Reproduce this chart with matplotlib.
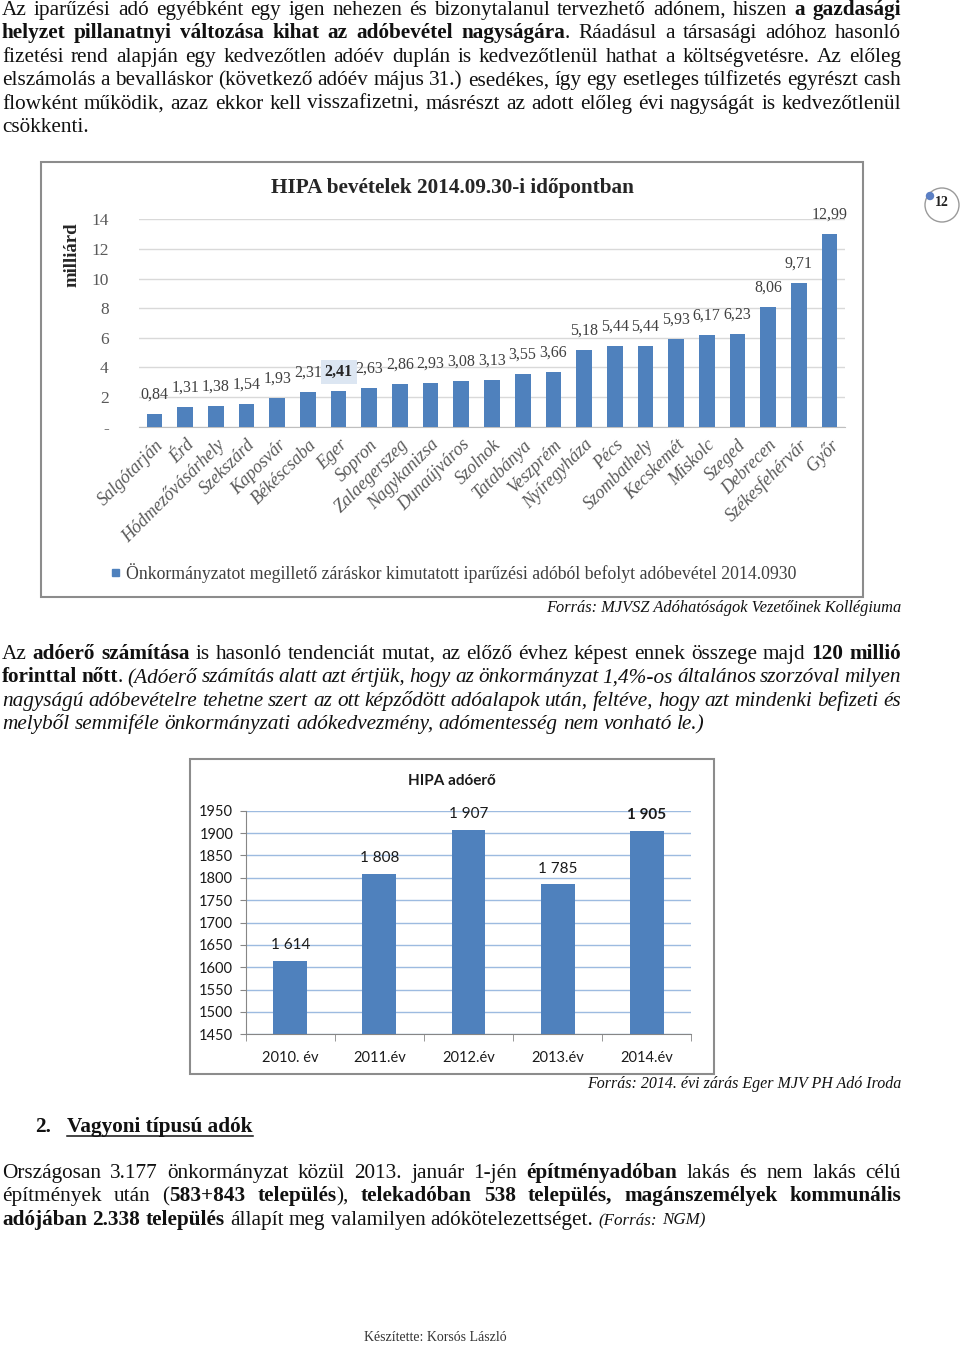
import numpy as np
import matplotlib
matplotlib.use("Agg")
import matplotlib.pyplot as plt
from matplotlib.patches import Rectangle, Circle

W, H = 960, 1347
SERIF = ["Liberation Serif", "DejaVu Serif"]
SANS = ["Lato", "DejaVu Sans"]
BLUE = "#4f81bd"

# chart 1 - HIPA bevételek (milliárd Ft)
cities = ["Salgótarján", "Érd", "Hódmezővásárhely", "Szekszárd", "Kaposvár",
          "Békéscsaba", "Eger", "Sopron", "Zalaegerszeg", "Nagykanizsa",
          "Dunaújváros", "Szolnok", "Tatabánya", "Veszprém", "Nyíregyháza",
          "Pécs", "Szombathely", "Kecskemét", "Miskolc", "Szeged", "Debrecen",
          "Székesfehérvár", "Győr"]
revenue = [0.84, 1.31, 1.38, 1.54, 1.93, 2.31, 2.41, 2.63, 2.86, 2.93, 3.08,
           3.13, 3.55, 3.66, 5.18, 5.44, 5.44, 5.93, 6.17, 6.23, 8.06, 9.71, 12.99]
rev_ticks = [0, 2, 4, 6, 8, 10, 12, 14]
rev_ticklabels = ["-", "2", "4", "6", "8", "10", "12", "14"]
highlight = "Eger"

# chart 2 - HIPA adóerő
years = ["2010. év", "2011.év", "2012.év", "2013.év", "2014.év"]
adoero = [1614, 1808, 1907, 1785, 1905]
adoero_ticks = list(range(1450, 2000, 50))

# body text: lines of (text, style) segments
para1 = [
    [("Az iparűzési adó egyébként egy igen nehezen és bizonytalanul tervezhető adónem, hiszen ", "n"), ("a gazdasági", "b")],
    [("helyzet pillanatnyi változása kihat az adóbevétel nagyságára", "b"), (". Ráadásul a társasági adóhoz hasonló", "n")],
    [("fizetési rend alapján egy kedvezőtlen adóév duplán is kedvezőtlenül hathat a költségvetésre. Az előleg", "n")],
    [("elszámolás a bevalláskor (következő adóév május 31.) esedékes, így egy esetleges túlfizetés egyrészt cash", "n")],
    [("flowként működik, azaz ekkor kell visszafizetni, másrészt az adott előleg évi nagyságát is kedvezőtlenül", "n")],
    [("csökkenti.", "n")],
]
para2 = [
    [("Az ", "n"), ("adóerő számítása", "b"), (" is hasonló tendenciát mutat, az előző évhez képest ennek összege majd ", "n"), ("120 millió", "b")],
    [("forinttal nőtt", "b"), (". ", "n"), ("(Adóerő számítás alatt azt értjük, hogy az önkormányzat 1,4%-os általános szorzóval milyen", "i")],
    [("nagyságú adóbevételre tehetne szert az ott képződött adóalapok után, feltéve, hogy azt mindenki befizeti és", "i")],
    [("melyből semmiféle önkormányzati adókedvezmény, adómentesség nem vonható le.)", "i")],
]
para3 = [
    [("Országosan 3.177 önkormányzat közül 2013. január 1-jén ", "n"), ("építményadóban", "b"), (" lakás és nem lakás célú", "n")],
    [("építmények után (", "n"), ("583+843 település", "b"), ("), ", "n"), ("telekadóban 538 település, magánszemélyek kommunális", "b")],
    [("adójában 2.338 település", "b"), (" állapít meg valamilyen adókötelezettséget. ", "n"), ("(Forrás: NGM)", "s")],
]

fig = plt.figure(figsize=(W / 100, H / 100), dpi=100)
renderer = fig.canvas.get_renderer()

# page layer in pixel coordinates
ax0 = fig.add_axes([0, 0, 1, 1])
ax0.set_xlim(0, W)
ax0.set_ylim(H, 0)
ax0.axis("off")

BODY = 15.3


def style_kw(st, size):
    kw = dict(fontfamily=SERIF, fontsize=size, color="#111111")
    if "b" in st:
        kw["fontweight"] = "bold"
    if "i" in st:
        kw["fontstyle"] = "italic"
    if st == "s":
        kw["fontstyle"] = "italic"
        kw["fontsize"] = size * 0.8
    return kw


def word_groups(segs):
    groups, cur = [], []
    for text, st in segs:
        for k, p in enumerate(text.split(" ")):
            if k > 0:
                if cur:
                    groups.append(cur)
                cur = []
            if p:
                cur.append((p, st))
    if cur:
        groups.append(cur)
    return groups


def draw_line(segs, y, justify=True, x0=2, x1=901, size=BODY):
    groups = word_groups(segs)
    while True:
        placed, widths = [], []
        for g in groups:
            items, gw = [], 0
            for word, st in g:
                t = ax0.text(0, y, word, ha="left", va="baseline", **style_kw(st, size))
                w = t.get_window_extent(renderer).width
                items.append((t, w))
                gw += w
            placed.append(items)
            widths.append(gw)
        space = size * 100 / 72 * 0.25
        gap = space
        if justify and len(placed) > 1:
            gap = (x1 - x0 - sum(widths)) / (len(placed) - 1)
        if gap >= 0.7 * space:
            break
        # line too long: shrink a little and retry
        for items in placed:
            for t, _ in items:
                t.remove()
        size *= 0.98
    x = x0
    for items, gw in zip(placed, widths):
        xx = x
        for t, w in items:
            t.set_x(xx)
            xx += w
        x += gw + gap


def draw_para(lines, y0, step=23.4):
    for k, segs in enumerate(lines):
        draw_line(segs, y0 + k * step, justify=(k < len(lines) - 1))


draw_para(para1, 15)
draw_para(para2, 659)
draw_para(para3, 1178)

# heading
ax0.text(35, 1132, "2.", ha="left", va="baseline", **style_kw("b", BODY))
hd = ax0.text(67, 1132, "Vagyoni típusú adók", ha="left", va="baseline", **style_kw("b", BODY))
hw = hd.get_window_extent(renderer).width
ax0.plot([67, 67 + hw], [1136, 1136], color="#111111", lw=1.1)

# footer
ax0.text(435, 1341, "Készítette: Korsós László", ha="center", va="baseline",
         fontfamily=SERIF, fontsize=10, color="#333333")

# page number badge
ax0.add_patch(Circle((942, 205), 17, fill=False, ec="#9a9a9a", lw=1))
ax0.add_patch(Circle((930, 196), 3.5, color="#5b7fc4"))
ax0.text(942, 202, "12", ha="center", va="center", fontfamily=SERIF,
         fontsize=10, fontweight="bold", color="#222222")

# ---------------- chart 1 ----------------
ax0.add_patch(Rectangle((41, 162), 822, 435, fill=False, ec="#8c8c8c", lw=1.5))
ax0.text(452, 188, "HIPA bevételek 2014.09.30-i időpontban", ha="center", va="center",
         fontfamily=SERIF, fontsize=15.3, fontweight="bold", color="#262626")
ax0.text(72, 255, "milliárd", ha="center", va="center", rotation=90,
         fontfamily=SERIF, fontsize=13.5, fontweight="bold", color="#262626")

ax1 = fig.add_axes([139.2 / W, 1 - 426.7 / H, (844.8 - 139.2) / W, (426.7 - 219.3) / H])
ax1.set_facecolor("none")
x1 = np.arange(len(cities))
ax1.bar(x1, revenue, width=0.51, color=BLUE, zorder=3)
ax1.set_xlim(-0.5, len(cities) - 0.5)
ax1.set_ylim(0, 14)
ax1.set_yticks(rev_ticks)
ax1.set_yticklabels(rev_ticklabels, fontfamily=SERIF, fontsize=12.5, color="#595959")
ax1.grid(axis="y", color="#d9d9d9", lw=1, zorder=0)
for s in ["top", "right", "left"]:
    ax1.spines[s].set_visible(False)
ax1.spines["bottom"].set_color("#bfbfbf")
ax1.tick_params(axis="y", length=0, pad=22)
ax1.tick_params(axis="x", length=0, pad=7)
ax1.set_xticks(x1)
ax1.set_xticklabels(cities, rotation=45, ha="right", va="top", rotation_mode="anchor",
                    fontfamily=SERIF, fontstyle="italic", fontsize=13, color="#595959")
for xi, v, c in zip(x1, revenue, cities):
    lab = f"{v:.2f}".replace(".", ",")
    if c == highlight:
        ax1.annotate(lab, (xi, v), xytext=(0, 14), textcoords="offset points",
                     ha="center", va="center", fontfamily=SERIF, fontsize=11.5,
                     fontweight="bold", color="#262626",
                     bbox=dict(boxstyle="square,pad=0.25", fc="#dce6f2", ec="none"))
    else:
        ax1.annotate(lab, (xi, v), xytext=(0, 14), textcoords="offset points",
                     ha="center", va="center", fontfamily=SERIF, fontsize=11.5,
                     color="#404040")

ax0.add_patch(Rectangle((112, 569), 7, 7, color=BLUE))
ax0.text(126, 573, "Önkormányzatot megillető záráskor kimutatott iparűzési adóból befolyt adóbevétel 2014.0930",
         ha="left", va="center", fontfamily=SERIF, fontsize=12.8, color="#404040")
ax0.text(901, 608, "Forrás: MJVSZ Adóhatóságok Vezetőinek Kollégiuma", ha="right", va="center",
         fontfamily=SERIF, fontstyle="italic", fontsize=11.8, color="#111111")

# ---------------- chart 2 ----------------
ax0.add_patch(Rectangle((190, 759), 524, 315, fill=False, ec="#8c8c8c", lw=1.5))
ax0.text(452, 781, "HIPA adóerő", ha="center", va="center", fontfamily=SANS,
         fontsize=11, fontweight="bold", color="#1a1a1a")

ax2 = fig.add_axes([245.75 / W, 1 - 1034.3 / H, (691.25 - 245.75) / W, (1034.3 - 810.7) / H])
ax2.set_facecolor("none")
x2 = np.arange(len(years))
ax2.bar(x2, adoero, width=0.38, color=BLUE, zorder=3)
ax2.set_xlim(-0.5, len(years) - 0.5)
ax2.set_ylim(1450, 1950)
ax2.set_yticks(adoero_ticks)
ax2.set_yticklabels([str(t) for t in adoero_ticks], fontfamily=SANS, fontsize=10.5, color="#1a1a1a")
ax2.grid(axis="y", color="#9dbbe0", lw=1, zorder=0)
ax2.spines["top"].set_visible(False)
ax2.spines["right"].set_visible(False)
ax2.spines["left"].set_color("#868686")
ax2.spines["bottom"].set_color("#868686")
ax2.tick_params(axis="y", length=4, color="#868686", pad=5)
ax2.set_xticks(x2)
ax2.set_xticklabels(years, fontfamily=SANS, fontsize=10.5, color="#1a1a1a")
ax2.tick_params(axis="x", which="major", length=0, pad=12)
ax2.set_xticks(np.arange(-0.5, len(years)), minor=True)
ax2.tick_params(axis="x", which="minor", length=5, color="#868686")
for xi, v in zip(x2, adoero):
    lab = f"{v:,}".replace(",", " ")
    ax2.annotate(lab, (xi, v), xytext=(0, 11.5), textcoords="offset points",
                 ha="center", va="center", fontfamily=SANS, fontsize=11,
                 fontweight="bold" if xi == len(years) - 1 else "normal", color="#1a1a1a")

ax0.text(901, 1084, "Forrás: 2014. évi zárás Eger MJV PH Adó Iroda", ha="right", va="center",
         fontfamily=SERIF, fontstyle="italic", fontsize=11.5, color="#111111")

fig.savefig("out.png", dpi=100)
